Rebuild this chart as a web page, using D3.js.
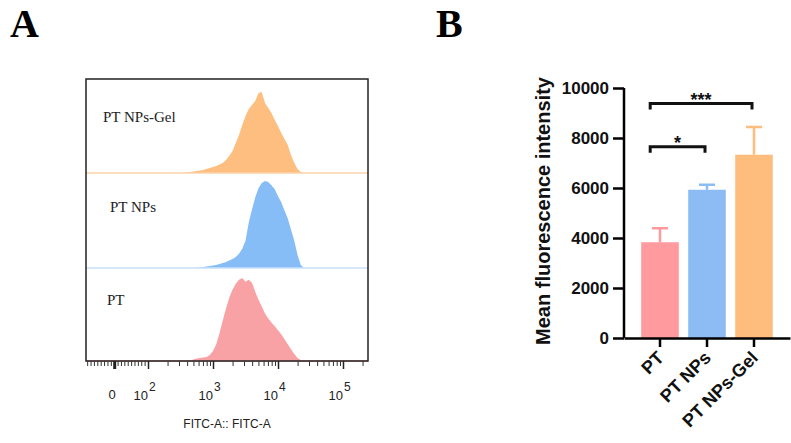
<!DOCTYPE html>
<html>
<head>
<meta charset="utf-8">
<script src="https://cdn.jsdelivr.net/npm/d3@7"></script>
<style>
  body { margin: 0; background: #fff; }
  svg { display: block; }
</style>
</head>
<body>
<svg width="791" height="443"></svg>
<script>
// ---- data: flow histograms (log10 FITC-A bins, counts) ----
const binLog = [2.50, 2.55, 2.60, 2.65, 2.70, 2.75, 2.80, 2.85, 2.90, 2.95,
                3.00, 3.05, 3.10, 3.15, 3.20, 3.25, 3.30, 3.35, 3.40, 3.45,
                3.50, 3.55, 3.60, 3.65, 3.70, 3.75, 3.80, 3.85, 3.90, 3.95,
                4.00, 4.05, 4.10, 4.15, 4.20, 4.25, 4.30, 4.35, 4.40];
const gelCounts = [0, 0, 0.5, 1, 1.5, 2, 2.5, 3, 4, 5,
                   6, 7, 8.5, 10, 13, 17, 22, 30, 38, 48,
                   57, 64, 68, 72, 80, 81, 70, 65, 60, 53,
                   47, 40, 34, 28, 18, 10, 4, 1, 0];
const npsCounts = [0, 0, 0, 0, 0, 0.3, 0.5, 1, 1.5, 2,
                   2.5, 3, 4, 5, 6, 7.5, 9, 11, 14, 19,
                   27, 45, 58, 70, 79, 84, 86, 85, 82, 78,
                   71, 65, 57, 49, 38, 27, 13, 3, 0];
const ptCounts  = [0, 0, 0, 0.5, 1.5, 2.5, 3, 3.5, 4, 6,
                   10, 17, 28, 41, 53, 64, 72, 78, 82, 84,
                   80, 82, 79, 70, 62, 55, 48, 43, 39, 35,
                   31, 27, 22, 17, 12, 7, 3, 1, 0];
const laneNames = ["PT NPs-Gel", "PT NPs", "PT"];
const majorTicks = [0, 100, 1000, 10000, 100000];
const majorExp = ["", "2", "3", "4", "5"];

// ---- data: bar chart ----
const groups = ["PT", "PT NPs", "PT NPs-Gel"];
const meanMFI = [3830, 5930, 7330];
const sdMFI = [560, 200, 1110];
const yTicks = [0, 2000, 4000, 6000, 8000, 10000];
const sigPairs = [["PT", "PT NPs", 7650, "*"], ["PT", "PT NPs-Gel", 9380, "***"]];

const svg = d3.select("svg");
const sans = "Liberation Sans, Arial, sans-serif";
const serif = "Liberation Serif, Times New Roman, serif";

// panel letters
svg.append("text").attr("x", 10).attr("y", 37)
   .attr("font-family", serif).attr("font-weight", "bold").attr("font-size", 40)
   .text("A");
svg.append("text").attr("x", 436).attr("y", 37)
   .attr("font-family", serif).attr("font-weight", "bold").attr("font-size", 40)
   .text("B");

// ================= panel A =================
const boxL = 86, boxR = 368, boxT = 79, boxB = 361;
// biexponential-ish display: log above 100, linear below
const disp = v => v >= 100 ? Math.log10(v) : 2 + (v - 100) / 100 * 0.52;
const x = d3.scaleLinear().domain([2, 5]).range([148, 343]);

const lanes = [
  { name: laneNames[0], counts: gelCounts, top: 79, bottom: 173, fill: "#fdbe80", base: "#fbd2aa", lx: 103, ly: 122 },
  { name: laneNames[1], counts: npsCounts, top: 173, bottom: 268, fill: "#86bdf7", base: "#c8e0fa", lx: 110, ly: 212 },
  { name: laneNames[2], counts: ptCounts,  top: 268, bottom: 361, fill: "#f9a2a5", base: "#f9a2a5", lx: 107, ly: 305 }
];

lanes.forEach(ln => {
  const y = d3.scaleLinear().domain([0, 94]).range([ln.bottom, ln.top]);
  const area = d3.area()
     .x((d, i) => x(binLog[i]))
     .y0(ln.bottom)
     .y1(d => y(d));
  svg.append("path")
     .datum(ln.counts)
     .attr("d", area)
     .attr("fill", ln.fill);
  // lane baseline
  svg.append("line")
     .attr("x1", boxL).attr("x2", boxR)
     .attr("y1", ln.bottom).attr("y2", ln.bottom)
     .attr("stroke", ln.base).attr("stroke-width", 1.5);
  svg.append("text")
     .attr("x", ln.lx).attr("y", ln.ly)
     .attr("font-family", serif).attr("font-size", 15)
     .attr("fill", "#222")
     .text(ln.name);
});

// frame
svg.append("rect")
   .attr("x", boxL).attr("y", boxT)
   .attr("width", boxR - boxL).attr("height", boxB - boxT)
   .attr("fill", "none").attr("stroke", "#222").attr("stroke-width", 1.5);

// minor ticks
const minorRaw = [];
for (let v = -80; v <= 90; v += 10) if (v !== 0) minorRaw.push(v);
[100, 1000, 10000].forEach(d => { for (let k = 2; k <= 9; k++) minorRaw.push(k * d); });
minorRaw.push(200000);

svg.append("g")
   .attr("transform", `translate(0,${boxB})`)
   .call(d3.axisBottom(x).tickValues(minorRaw.map(disp)).tickSize(5).tickFormat(""))
   .call(g => g.select(".domain").remove())
   .call(g => g.selectAll("line").attr("stroke", "#333"));

svg.append("g")
   .attr("transform", `translate(0,${boxB})`)
   .call(d3.axisBottom(x).tickValues(majorTicks.map(disp)).tickSize(8).tickFormat(""))
   .call(g => g.select(".domain").remove())
   .call(g => g.selectAll("line").attr("stroke", "#222").attr("stroke-width", (d, i) => i === 0 ? 3 : 1.5));

// major tick labels
majorTicks.forEach((v, i) => {
  const tx = x(disp(v));
  if (i === 0) {
    svg.append("text").attr("x", tx - 2).attr("y", 399)
       .attr("text-anchor", "middle").attr("font-family", sans).attr("font-size", 13)
       .attr("fill", "#222").text("0");
  } else {
    svg.append("text").attr("x", tx).attr("y", 400)
       .attr("text-anchor", "end").attr("font-family", sans).attr("font-size", 13)
       .attr("fill", "#222").text("10");
    svg.append("text").attr("x", tx + 1).attr("y", 391)
       .attr("font-family", sans).attr("font-size", 12)
       .attr("fill", "#222").text(majorExp[i]);
  }
});

svg.append("text")
   .attr("x", 227).attr("y", 428)
   .attr("text-anchor", "middle").attr("font-family", sans).attr("font-size", 12)
   .attr("fill", "#222")
   .text("FITC-A:: FITC-A");

// ================= panel B =================
const barColors = ["#ff9a9f", "#8dbcf5", "#ffbd7d"];
const xb = d3.scaleBand().domain(groups).range([624, 790])
   .paddingInner(0.2).paddingOuter(0.366);
const yb = d3.scaleLinear().domain([0, 10000]).range([338, 88]);

// bars
svg.append("g").selectAll("rect")
   .data(groups)
   .join("rect")
   .attr("x", d => xb(d))
   .attr("y", (d, i) => yb(meanMFI[i]))
   .attr("width", xb.bandwidth())
   .attr("height", (d, i) => yb(0) - yb(meanMFI[i]))
   .attr("fill", (d, i) => barColors[i]);

// error bars (upper only)
groups.forEach((g, i) => {
  const cx = xb(g) + xb.bandwidth() / 2;
  svg.append("path")
     .attr("d", `M${cx},${yb(meanMFI[i])}V${yb(meanMFI[i] + sdMFI[i])}M${cx - 8},${yb(meanMFI[i] + sdMFI[i])}H${cx + 8}`)
     .attr("stroke", barColors[i]).attr("stroke-width", 2.5).attr("fill", "none");
});

// axes
svg.append("g")
   .attr("transform", "translate(624,0)")
   .call(d3.axisLeft(yb).tickValues(yTicks).tickFormat(d3.format("d")).tickSize(11).tickPadding(4))
   .call(g => g.select(".domain").attr("stroke-width", 2.5).attr("d", `M0,${yb(10000)}V${yb(0)}`))
   .call(g => g.selectAll("line").attr("stroke-width", 2.5))
   .call(g => g.selectAll("text").attr("font-family", sans).attr("font-weight", "bold")
      .attr("font-size", 17).attr("fill", "#111"));

svg.append("g")
   .attr("transform", `translate(0,${yb(0)})`)
   .call(d3.axisBottom(xb).tickSize(9).tickSizeOuter(0))
   .call(g => g.select(".domain").attr("stroke-width", 2.5))
   .call(g => g.selectAll("line").attr("stroke-width", 2.5))
   .call(g => g.selectAll("text")
      .attr("font-family", sans).attr("font-weight", "bold").attr("font-size", 18)
      .attr("fill", "#111")
      .attr("text-anchor", "end")
      .attr("dy", null).attr("y", 0)
      .attr("transform", "translate(5,21) rotate(-45)"));

// y axis title
svg.append("text")
   .attr("transform", "translate(550,211) rotate(-90)")
   .attr("text-anchor", "middle")
   .attr("font-family", sans).attr("font-weight", "bold").attr("font-size", 20)
   .attr("fill", "#111")
   .text("Mean fluorescence intensity");

// significance brackets
sigPairs.forEach(([a, b, v, label]) => {
  const x1 = xb(a) + 9, x2 = xb(b) + xb.bandwidth() / 2 - 2;
  const yy = yb(v);
  svg.append("path")
     .attr("d", `M${x1},${yy + 6}V${yy}H${x2}V${yy + 6}`)
     .attr("stroke", "#111").attr("stroke-width", 3).attr("fill", "none");
  svg.append("text")
     .attr("x", (x1 + x2) / 2).attr("y", yy + 2)
     .attr("text-anchor", "middle")
     .attr("font-family", sans).attr("font-weight", "bold").attr("font-size", 18)
     .attr("fill", "#111")
     .text(label);
});
</script>
</body>
</html>
